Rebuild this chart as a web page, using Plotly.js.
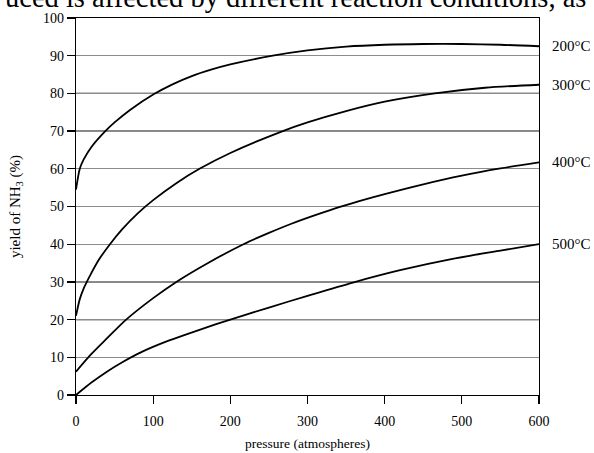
<!DOCTYPE html>
<html>
<head>
<meta charset="utf-8">
<script src="https://cdn.plot.ly/plotly-3.0.1.min.js"></script>
<style>html,body{margin:0;padding:0;background:#fff;}#chart{width:594px;height:453px;}</style>
</head>
<body>
<div id="chart"></div>
<script>
// Data (pressure in atmospheres, yield of NH3 in %)
const pressure200 = [0, 5, 10, 20, 38, 50, 70, 100, 125, 150, 175, 200, 255, 300, 350, 400, 450, 500, 550, 600];
const yield200    = [54.5, 60.1, 62.5, 65.8, 70, 72.3, 75.6, 79.7, 82.4, 84.6, 86.3, 87.7, 90, 91.4, 92.4, 92.9, 93.1, 93.1, 92.9, 92.5];

const pressure300 = [0, 5, 10, 14, 20, 30, 44, 60, 80, 100, 130, 160, 200, 268, 300, 350, 400, 465, 530, 600];
const yield300    = [21, 25.5, 28.3, 30, 32.4, 36, 40, 44, 48.2, 51.7, 56.2, 60, 64.2, 70, 72.3, 75.3, 77.8, 80, 81.5, 82.3];

const pressure400 = [0, 20, 40, 65, 100, 130, 170, 217, 250, 280, 310, 342, 375, 400, 450, 500, 550, 600];
const yield400    = [6.2, 10.9, 15, 20, 25.7, 30, 34.9, 40, 43, 45.5, 47.7, 49.9, 51.9, 53.3, 55.9, 58.2, 60.1, 61.7];

const pressure500 = [0, 20, 40, 60, 86, 120, 160, 200, 250, 300, 360, 420, 488, 550, 600];
const yield500    = [0, 3.3, 6.2, 8.7, 11.5, 14.4, 17.3, 20, 23.2, 26.3, 29.9, 33.1, 36.1, 38.3, 40];

const seriesLabels = ["200°C", "300°C", "400°C", "500°C"];
const xTickValues = [0, 100, 200, 300, 400, 500, 600];
const yTickValues = [0, 10, 20, 30, 40, 50, 60, 70, 80, 90, 100];
const darkGridValues = [20, 30, 70, 80];

const pressures = [pressure200, pressure300, pressure400, pressure500];
const yields = [yield200, yield300, yield400, yield500];

const serif = "Liberation Serif, Times New Roman, serif";

const traces = pressures.map((px, i) => ({
  type: "scatter",
  mode: "lines",
  x: px,
  y: yields[i],
  name: seriesLabels[i],
  line: {color: "#000", width: 1.8, shape: "spline", smoothing: 0.8},
  hoverinfo: "skip",
  showlegend: false
}));

const annotations = pressures.map((px, i) => ({
  x: px[px.length - 1],
  y: yields[i][yields[i].length - 1],
  xref: "x", yref: "y",
  text: seriesLabels[i],
  showarrow: false,
  xanchor: "left",
  yanchor: "middle",
  xshift: 11,
  font: {family: serif, size: 15, color: "#000"}
}));

annotations.push({
  xref: "paper", yref: "paper",
  x: 0.474, y: 1,
  xanchor: "center", yanchor: "bottom",
  yshift: 3,
  text: "uced is affected by different reaction conditions, as",
  showarrow: false,
  font: {family: serif, size: 28.5, color: "#000"}
});

const shapes = darkGridValues.map(v => ({
  type: "line", xref: "paper", yref: "y",
  x0: 0, x1: 1, y0: v, y1: v,
  line: {color: "#111", width: 1.3},
  layer: "below"
}));

const layout = {
  width: 594,
  height: 453,
  margin: {l: 76, r: 55, t: 18, b: 58, pad: 0},
  paper_bgcolor: "#fff",
  plot_bgcolor: "#fff",
  showlegend: false,
  font: {family: serif, color: "#000"},
  xaxis: {
    range: [0, 600],
    tickvals: xTickValues,
    ticks: "outside",
    ticklen: 8,
    tickwidth: 1.3,
    tickcolor: "#000",
    showline: true,
    linecolor: "#000",
    linewidth: 1.3,
    mirror: true,
    showgrid: false,
    zeroline: false,
    ticklabelstandoff: 5,
    tickfont: {family: serif, size: 14, color: "#000"},
    title: {text: "pressure (atmospheres)", font: {family: serif, size: 13.5, color: "#000"}, standoff: 10},
    automargin: false
  },
  yaxis: {
    range: [0, 100],
    tickvals: yTickValues,
    ticks: "outside",
    ticklen: 8,
    tickwidth: 1.3,
    tickcolor: "#000",
    showline: true,
    linecolor: "#000",
    linewidth: 1.3,
    mirror: true,
    showgrid: true,
    gridcolor: "#8c8c8c",
    gridwidth: 1,
    zeroline: false,
    tickfont: {family: serif, size: 14, color: "#000"},
    title: {text: "yield of NH<sub>3</sub> (%)", font: {family: serif, size: 15, color: "#000"}, standoff: 18},
    automargin: false
  },
  shapes: shapes,
  annotations: annotations
};

Plotly.newPlot("chart", traces, layout, {staticPlot: true, displayModeBar: false});
</script>
</body>
</html>
